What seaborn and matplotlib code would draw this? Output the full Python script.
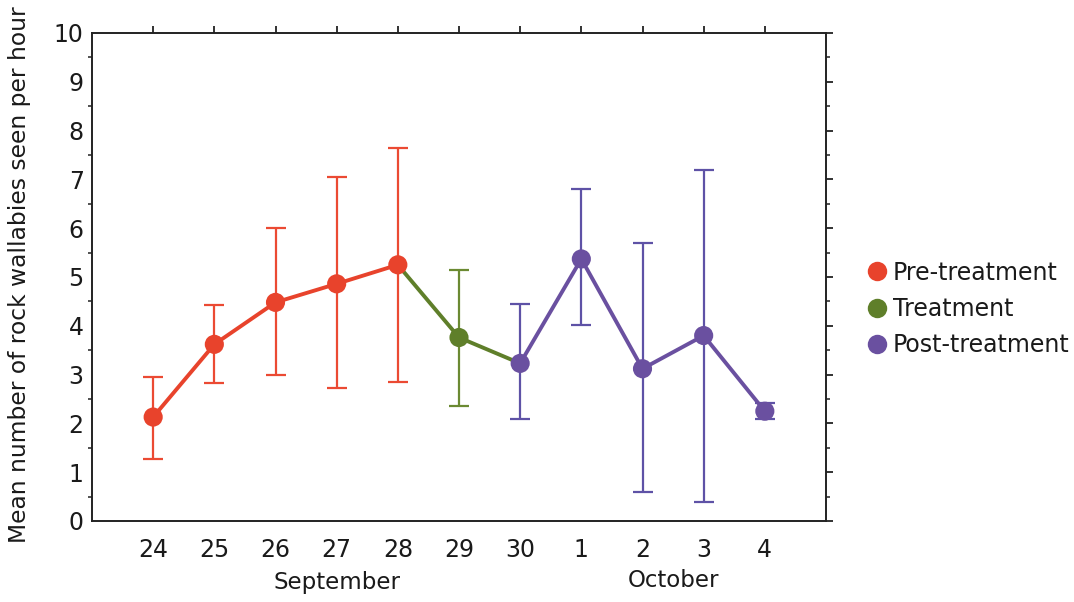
import matplotlib
matplotlib.use("Agg")
import matplotlib.pyplot as plt
import seaborn as sns
import numpy as np
import pandas as pd
from matplotlib.lines import Line2D
from matplotlib.ticker import MultipleLocator

# ---- data ----
day_labels = ["24", "25", "26", "27", "28", "29", "30", "1", "2", "3", "4"]
means      = [2.13, 3.62, 4.48, 4.86, 5.25, 3.76, 3.23, 5.37, 3.12, 3.80, 2.25]
err_upper  = [2.95, 4.43, 6.00, 7.05, 7.65, 5.15, 4.45, 6.80, 5.70, 7.20, 2.42]
err_lower  = [1.27, 2.83, 3.00, 2.73, 2.85, 2.35, 2.08, 4.02, 0.60, 0.38, 2.10]
phase      = ["Pre-treatment"] * 5 + ["Treatment"] + ["Post-treatment"] * 5
phase_names = ["Pre-treatment", "Treatment", "Post-treatment"]
months = ["September", "October"]

colors = {"Pre-treatment": "#E8432C", "Treatment": "#5F7F2A", "Post-treatment": "#6A50A0"}
err_colors = {"Pre-treatment": "#EB4A33", "Treatment": "#6B8A32", "Post-treatment": "#5E52A6"}

x = np.arange(len(day_labels))
df = pd.DataFrame({"x": x, "mean": means, "hi": err_upper, "lo": err_lower, "phase": phase})

sns.set_style("white")
plt.rcParams["font.family"] = ["DejaVu Sans"]
txt = "#1a1a1a"

fig = plt.figure(figsize=(10.74, 6.02), dpi=100)
ax = fig.add_axes([92/1074, 81/602, (826-92)/1074, (521-33)/602])

# error bars
for i, r in df.iterrows():
    c = err_colors[r["phase"]]
    ax.errorbar(r["x"], r["mean"], yerr=[[r["mean"] - r["lo"]], [r["hi"] - r["mean"]]],
                fmt="none", ecolor=c, elinewidth=1.6, capsize=7, capthick=1.6, zorder=2)

# line segments
seg_idx = {"Pre-treatment": range(0, 5), "Treatment": range(4, 7), "Post-treatment": range(6, 11)}
for name in phase_names:
    sub = df.iloc[list(seg_idx[name])]
    sns.lineplot(data=sub, x="x", y="mean", color=colors[name], linewidth=2.8,
                 ax=ax, zorder=3, legend=False, estimator=None)

# markers
sns.scatterplot(data=df, x="x", y="mean", hue="phase", palette=colors, s=190,
                edgecolor="none", ax=ax, zorder=4, legend=False)

ax.set_xlim(-1, 11)
ax.set_ylim(0, 10)
ax.set_xticks(x)
ax.set_xticklabels(day_labels, fontsize=17, color=txt)
ax.set_yticks(np.arange(0, 11))
ax.set_yticklabels([str(v) for v in range(11)], fontsize=17, color=txt)
ax.yaxis.set_minor_locator(MultipleLocator(0.5))
ax.tick_params(axis="both", which="major", direction="out", length=5, width=1.3,
               top=True, right=True, labeltop=False, labelright=False, color="#222222")
ax.tick_params(axis="y", which="minor", direction="out", length=3, width=1.1,
               left=True, right=True, color="#222222")
ax.tick_params(axis="x", pad=7)
ax.tick_params(axis="y", pad=1)
for s in ax.spines.values():
    s.set_visible(True)
    s.set_color("#222222")
    s.set_linewidth(1.4)

ax.set_xlabel("")
ax.set_ylabel("")
fig.text(20/1074, (602-275)/602, "Mean number of rock wallabies seen per hour",
         rotation=90, ha="center", va="center", fontsize=16.8, color=txt)

# month labels
ax.text(3, -1.27, months[0], ha="center", va="center", fontsize=16.5, color=txt,
        transform=ax.transData, clip_on=False)
ax.text(8.5, -1.22, months[1], ha="center", va="center", fontsize=16.5, color=txt,
        transform=ax.transData, clip_on=False)

# legend
handles = [Line2D([0], [0], marker="o", linestyle="none", markersize=14,
                  markerfacecolor=colors[n], markeredgecolor="none", label=n) for n in phase_names]
leg = fig.legend(handles=handles, loc="center left", bbox_to_anchor=(0.797, 0.487), frameon=False,
                 fontsize=17, handletextpad=0.15, handlelength=1.0, labelspacing=0.52,
                 borderaxespad=0)
for t in leg.get_texts():
    t.set_color(txt)

fig.savefig("out.png", dpi=100)
